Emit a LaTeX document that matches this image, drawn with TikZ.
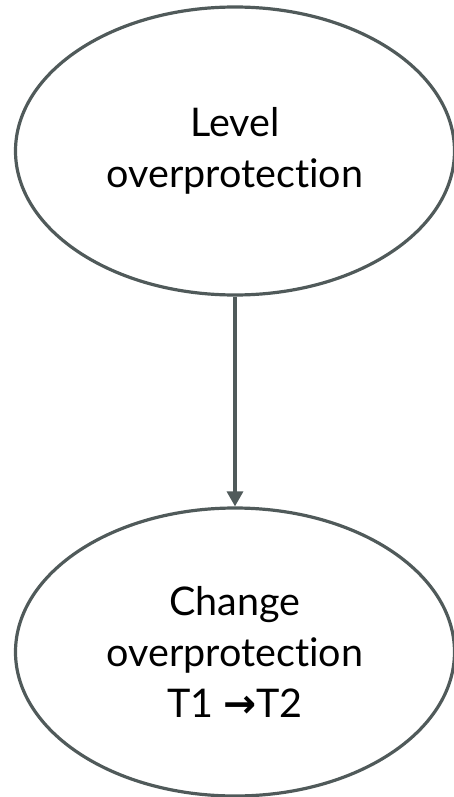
\documentclass[tikz,border=0pt]{standalone}
\usepackage{fontspec}
\setmainfont{Lato}[Ligatures=NoCommon]
\newfontfamily\symfont{DejaVu Sans}
\usetikzlibrary{arrows.meta,shapes.geometric}
\definecolor{edge}{RGB}{80,90,90}
\tikzset{
  bubble/.style={ellipse, draw=edge, line width=3.2pt, minimum width=439pt, minimum height=288pt, inner sep=0pt, align=center, font=\fontsize{39.5}{51}\selectfont, text=black},
  link/.style={draw=edge, line width=3.2pt, -{Triangle[length=15pt,width=16pt]}}
}
\begin{document}
\begin{tikzpicture}[x=1pt,y=-1pt]
\useasboundingbox (0,0) rectangle (454,797);
\node[bubble] (lvl) at (235,151) {Level\\overprotection};
\node[bubble] (chg) at (235,652) {Change\\overprotection\\T1 {\symfont\bfseries →}T2};
\draw[link] (lvl.south) -- (chg.north);
\end{tikzpicture}
\end{document}
